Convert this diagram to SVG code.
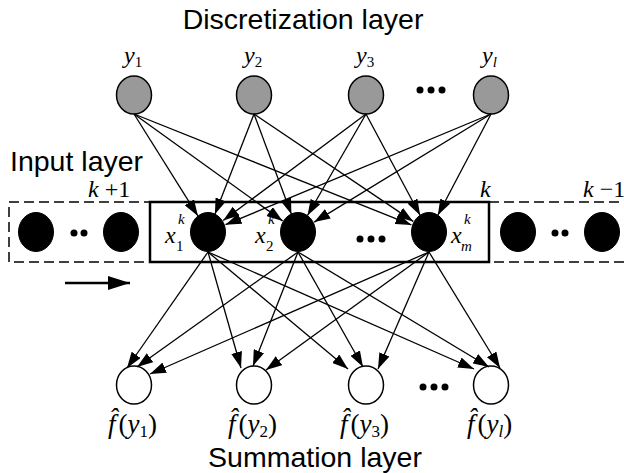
<svg xmlns="http://www.w3.org/2000/svg" width="624" height="473" viewBox="0 0 624 473">
<style>
.sans{font-family:"Liberation Sans",Arial,sans-serif;font-size:28.5px;fill:#000}
.m{font-family:"Liberation Serif","Times New Roman",serif;font-size:24px;fill:#000}
.fl{font-family:"Liberation Serif","Times New Roman",serif;font-size:27px;fill:#000}
.i{font-style:italic}
.sub{font-size:15px}
.fs{font-size:17px}
.gray{fill:#999;stroke:#000;stroke-width:1.5}
.blk{fill:#000;stroke:#000}
.wht{fill:#fff;stroke:#000;stroke-width:1.5}
.edge{stroke:#000;stroke-width:1.3;fill:none;marker-end:url(#ah)}
.dot{fill:#000}
</style>
<defs>
<marker id="ah" markerUnits="userSpaceOnUse" markerWidth="16" markerHeight="11" refX="16" refY="5.5" orient="auto">
<path d="M0,0 L16,5.5 L0,11 z" fill="#000"/>
</marker>
<marker id="ah2" markerUnits="userSpaceOnUse" markerWidth="22" markerHeight="14" refX="22" refY="7" orient="auto">
<path d="M0,0 L22,7 L0,14 z" fill="#000"/>
</marker>
</defs>
<text class="sans" x="303" y="29" text-anchor="middle">Discretization layer</text>
<text class="sans" x="10" y="171">Input layer</text>
<text class="sans" x="315" y="467" text-anchor="middle">Summation layer</text>

<!-- input frame -->
<g id="frame">
<rect x="9" y="202" width="630" height="60" fill="none" stroke="#000" stroke-width="1.5" stroke-dasharray="10,5"/>
<rect x="150" y="202" width="339" height="60" fill="none" stroke="#000" stroke-width="2.5"/>
<text class="m" x="88" y="197"><tspan class="i">k</tspan> +1</text>
<text class="m" x="480" y="197"><tspan class="i">k</tspan></text>
<text class="m" x="583" y="197"><tspan class="i">k</tspan> −1</text>
</g>

<!-- discretization nodes -->
<g id="y1"><ellipse class="gray" cx="134" cy="95" rx="17.5" ry="19"/><text class="m" x="124" y="63"><tspan class="i">y</tspan><tspan class="sub" dy="4">1</tspan></text></g>
<g id="y2"><ellipse class="gray" cx="254" cy="95" rx="17.5" ry="19"/><text class="m" x="244" y="63"><tspan class="i">y</tspan><tspan class="sub" dy="4">2</tspan></text></g>
<g id="y3"><ellipse class="gray" cx="366" cy="95" rx="17.5" ry="19"/><text class="m" x="356" y="63"><tspan class="i">y</tspan><tspan class="sub" dy="4">3</tspan></text></g>
<g id="yl"><ellipse class="gray" cx="491" cy="95" rx="17.5" ry="19"/><text class="m" x="482" y="63"><tspan class="i">y</tspan><tspan class="sub i" dy="4">l</tspan></text></g>
<g id="ydots"><circle class="dot" cx="420" cy="90" r="3.5"/><circle class="dot" cx="431" cy="90" r="3.5"/><circle class="dot" cx="442" cy="90" r="3.5"/></g>

<!-- input nodes -->
<g id="prev"><ellipse class="blk" cx="36" cy="232" rx="17.5" ry="19.5"/><ellipse class="blk" cx="121" cy="232" rx="17.5" ry="19.5"/><circle class="dot" cx="74" cy="233" r="3.5"/><circle class="dot" cx="84" cy="233" r="3.5"/></g>
<g id="x1"><ellipse class="blk" cx="208" cy="232" rx="17.5" ry="19.5"/><text class="m i" x="165" y="243">x</text><text class="m i sub" x="178" y="224">k</text><text class="m sub" x="176" y="251">1</text></g>
<g id="x2"><ellipse class="blk" cx="298" cy="232" rx="17.5" ry="19.5"/><text class="m i" x="255" y="243">x</text><text class="m i sub" x="268" y="224">k</text><text class="m sub" x="266" y="251">2</text></g>
<g id="xdots"><circle class="dot" cx="360" cy="239" r="3.5"/><circle class="dot" cx="371" cy="239" r="3.5"/><circle class="dot" cx="382" cy="239" r="3.5"/></g>
<g id="xm"><ellipse class="blk" cx="429" cy="232" rx="17.5" ry="19.5"/><text class="m i" x="451" y="243">x</text><text class="m i sub" x="464" y="224">k</text><text class="m i sub" x="461" y="251">m</text></g>
<g id="next"><ellipse class="blk" cx="518" cy="232" rx="17.5" ry="19.5"/><ellipse class="blk" cx="602" cy="232" rx="17.5" ry="19.5"/><circle class="dot" cx="555" cy="233" r="3.5"/><circle class="dot" cx="565" cy="233" r="3.5"/></g>

<!-- summation nodes -->
<g id="f1"><ellipse class="wht" cx="134" cy="385" rx="17.5" ry="19"/><text class="fl" x="108" y="433"><tspan class="i">f̂</tspan><tspan dx="3">(</tspan><tspan class="i">y</tspan><tspan class="fs" dy="4">1</tspan><tspan dy="-4">)</tspan></text></g>
<g id="f2"><ellipse class="wht" cx="254" cy="385" rx="17.5" ry="19"/><text class="fl" x="228" y="433"><tspan class="i">f̂</tspan><tspan dx="3">(</tspan><tspan class="i">y</tspan><tspan class="fs" dy="4">2</tspan><tspan dy="-4">)</tspan></text></g>
<g id="f3"><ellipse class="wht" cx="366" cy="385" rx="17.5" ry="19"/><text class="fl" x="340" y="433"><tspan class="i">f̂</tspan><tspan dx="3">(</tspan><tspan class="i">y</tspan><tspan class="fs" dy="4">3</tspan><tspan dy="-4">)</tspan></text></g>
<g id="fl"><ellipse class="wht" cx="491" cy="385" rx="17.5" ry="19"/><text class="fl" x="467" y="433"><tspan class="i">f̂</tspan><tspan dx="3">(</tspan><tspan class="i">y</tspan><tspan class="fs i" dy="4">l</tspan><tspan dy="-4">)</tspan></text></g>
<g id="fdots"><circle class="dot" cx="423" cy="387" r="3.5"/><circle class="dot" cx="434" cy="387" r="3.5"/><circle class="dot" cx="445" cy="387" r="3.5"/></g>

<g id="connectors">
<line class="edge" x1="134" y1="114" x2="197.9" y2="215.9"/>
<line class="edge" x1="134" y1="114" x2="282.6" y2="220.9"/>
<line class="edge" x1="134" y1="114" x2="411.4" y2="224.9"/>
<line class="edge" x1="254" y1="114" x2="214.9" y2="214.3"/>
<line class="edge" x1="254" y1="114" x2="291.4" y2="214.2"/>
<line class="edge" x1="254" y1="114" x2="413.2" y2="221.4"/>
<line class="edge" x1="366" y1="114" x2="223.2" y2="220.6"/>
<line class="edge" x1="366" y1="114" x2="307.5" y2="215.5"/>
<line class="edge" x1="366" y1="114" x2="420.1" y2="215.2"/>
<line class="edge" x1="491" y1="114" x2="225.5" y2="224.7"/>
<line class="edge" x1="491" y1="114" x2="314.2" y2="222.1"/>
<line class="edge" x1="491" y1="114" x2="437.8" y2="215.2"/>
<line class="edge" x1="208" y1="252" x2="127" y2="368"/>
<line class="edge" x1="298" y1="252" x2="137" y2="367"/>
<line class="edge" x1="429" y1="252" x2="150" y2="374"/>
<line class="edge" x1="208" y1="252" x2="241" y2="368"/>
<line class="edge" x1="298" y1="252" x2="253" y2="366"/>
<line class="edge" x1="429" y1="252" x2="266" y2="370"/>
<line class="edge" x1="208" y1="252" x2="348" y2="369"/>
<line class="edge" x1="298" y1="252" x2="363" y2="367"/>
<line class="edge" x1="429" y1="252" x2="378" y2="369"/>
<line class="edge" x1="208" y1="252" x2="474" y2="369"/>
<line class="edge" x1="298" y1="252" x2="489" y2="367"/>
<line class="edge" x1="429" y1="252" x2="500" y2="368"/>
<line x1="65" y1="283" x2="130" y2="283" stroke="#000" stroke-width="2.5" marker-end="url(#ah2)"/>
</g>
</svg>
